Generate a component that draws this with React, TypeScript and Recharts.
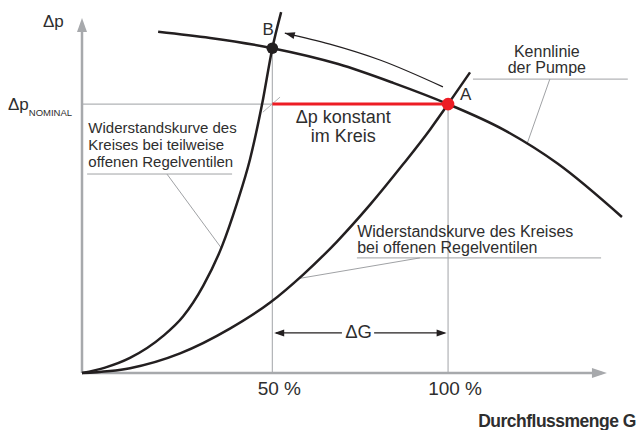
import { LineChart, Line, XAxis, YAxis, ReferenceLine, ReferenceDot } from 'recharts';

// G in % of nominal flow, dp in % of nominal pressure
const pumpG = [20.8, 35, 52, 70, 85, 100, 115, 130, 147.5];
const pumpDp = [126.9, 124.6, 120.8, 114.9, 107.9, 100, 90.6, 77.8, 58.0];

const partialG = [0, 6.3, 13.1, 22.1, 27.6, 33.1, 38.2, 42.3, 45.9, 49.2, 52, 54.4];
const partialDp = [0, 2.0, 5.6, 13.7, 21.0, 32.4, 47.0, 63.0, 79.5, 100, 120.8, 134.2];

const openG = [0, 13.1, 26.8, 40.4, 51.4, 60.5, 69.6, 78.7, 87.7, 95.1, 100, 106.0];
const openDp = [0, 1.8, 7.3, 16.5, 26.2, 36.7, 48.8, 62.6, 77.6, 90.6, 100, 111.8];

const shiftG = [55.4, 67.7, 81.4, 98.6];
const shiftDp = [126.4, 122.3, 116.4, 106.4];

const nominalDp = 100;
const pointA = { g: 100, dp: 100 };
const pointB = { g: 52, dp: 120.8 };
const deltaGLevel = 14.9;

const xTickValues = [52, 100];
const xTickLabels = ['50 %', '100 %'];

const FONT = "'Liberation Sans', Arial, sans-serif";
const INK = '#231f20';
const TEXT = '#2e2e2e';
const AXIS = '#a7a9ac';
const GUIDE = '#b1b3b6';
const LEADER = '#a0a2a5';
const RED = '#ed1c24';

const toPoints = (gs: number[], dps: number[]) => gs.map((g, i) => ({ g, dp: dps[i] }));

const pumpData = toPoints(pumpG, pumpDp);
const partialData = toPoints(partialG, partialDp);
const openData = toPoints(openG, openDp);
const shiftData = toPoints(shiftG, shiftDp);
const redData = [{ g: pointB.g, dp: nominalDp }, { g: pointA.g, dp: nominalDp }];

function arrowHead(angle: number, len: number, half: number, fill: string) {
  return (props: any) => (
    <polygon
      points={`0,0 ${-len},${-half} ${-len},${half}`}
      transform={`translate(${props.cx},${props.cy}) rotate(${angle})`}
      fill={fill}
    />
  );
}

interface NoteOpts {
  dx: number;
  dy: number;
  size: number;
  lh?: number;
  anchor?: 'start' | 'middle' | 'end';
  weight?: number;
  spacing?: number;
}

function note(lines: string[], o: NoteOpts) {
  return (props: any) => {
    const x = props.cx + o.dx;
    return (
      <text
        x={x}
        y={props.cy + o.dy}
        fontFamily={FONT}
        fontSize={o.size}
        fontWeight={o.weight ?? 400}
        letterSpacing={o.spacing}
        fill={TEXT}
        textAnchor={o.anchor ?? 'start'}
      >
        {lines.map((l, i) => (
          <tspan key={i} x={x} dy={i === 0 ? 0 : o.lh}>
            {l}
          </tspan>
        ))}
      </text>
    );
  };
}

const nominalLabel = (props: any) => (
  <text x={props.cx - 74} y={props.cy + 6} fontFamily={FONT} fontSize={17} fill={TEXT}>
    Δp
    <tspan fontSize={9.5} dy={6}>NOMINAL</tspan>
  </text>
);

const XTick = (props: any) => {
  const { x, y, payload } = props;
  const label = xTickLabels[xTickValues.indexOf(payload.value)];
  return (
    <text x={x + 7} y={y + 22} textAnchor="middle" fontFamily={FONT} fontSize={19} fill={TEXT}>
      {label}
    </text>
  );
};

const curve = { type: 'monotone' as const, dataKey: 'dp', dot: false, activeDot: false, isAnimationActive: false };

export default function App() {
  return (
    <div style={{ position: 'absolute', left: 0, top: 0, width: 641, height: 430, background: '#fff' }}>
      <LineChart width={641} height={430} margin={{ top: 10, right: 11, bottom: 0, left: 82 }}>
        <XAxis
          type="number"
          dataKey="g"
          domain={[0, 149.7]}
          ticks={xTickValues}
          interval={0}
          tick={<XTick />}
          axisLine={false}
          tickLine={false}
          tickSize={0}
          tickMargin={0}
          height={57}
        />
        <YAxis type="number" dataKey="dp" domain={[0, 135]} hide />

        {/* guide lines */}
        <ReferenceLine segment={[{ x: 0, y: nominalDp }, { x: pointB.g, y: nominalDp }]} stroke={GUIDE} strokeWidth={1.2} />
        <ReferenceLine segment={[{ x: pointB.g, y: 0 }, { x: pointB.g, y: pointB.dp }]} stroke={GUIDE} strokeWidth={1.2} />
        <ReferenceLine segment={[{ x: pointA.g, y: 0 }, { x: pointA.g, y: pointA.dp }]} stroke={GUIDE} strokeWidth={1.2} />
        <ReferenceLine segment={[{ x: 49.4, y: 97.0 }, { x: 54.1, y: 102.6 }]} stroke={GUIDE} strokeWidth={1} />

        {/* leaders */}
        <ReferenceLine segment={[{ x: 106.8, y: 109.3 }, { x: 149.1, y: 109.3 }]} stroke={LEADER} strokeWidth={1} />
        <ReferenceLine segment={[{ x: 127.8, y: 109.3 }, { x: 121.6, y: 85.3 }]} stroke={LEADER} strokeWidth={1} />
        <ReferenceLine segment={[{ x: 1.4, y: 74.0 }, { x: 41.0, y: 74.0 }]} stroke={LEADER} strokeWidth={1} />
        <ReferenceLine segment={[{ x: 23.2, y: 74.0 }, { x: 38.0, y: 46.6 }]} stroke={LEADER} strokeWidth={1} />
        <ReferenceLine segment={[{ x: 75.1, y: 42.8 }, { x: 141.8, y: 42.8 }]} stroke={LEADER} strokeWidth={1} />
        <ReferenceLine segment={[{ x: 92.3, y: 42.8 }, { x: 59.5, y: 35.2 }]} stroke={LEADER} strokeWidth={1} />

        {/* axes */}
        <ReferenceLine segment={[{ x: 0, y: 0 }, { x: 142, y: 0 }]} stroke={AXIS} strokeWidth={2.5} />
        <ReferenceLine segment={[{ x: 0, y: 0 }, { x: 0, y: 130 }]} stroke={AXIS} strokeWidth={2.5} />
        <ReferenceDot x={143.4} y={0} r={0} shape={arrowHead(0, 15, 5, AXIS)} />
        <ReferenceDot x={0} y={132} r={0} shape={arrowHead(-90, 14, 5, AXIS)} />

        {/* delta G arrow */}
        <ReferenceLine segment={[{ x: 53, y: deltaGLevel }, { x: 71, y: deltaGLevel }]} stroke={INK} strokeWidth={1.2} />
        <ReferenceLine segment={[{ x: 79.8, y: deltaGLevel }, { x: 99, y: deltaGLevel }]} stroke={INK} strokeWidth={1.2} />
        <ReferenceDot x={52.5} y={deltaGLevel} r={0} shape={arrowHead(180, 10, 3.5, INK)} />
        <ReferenceDot x={99.6} y={deltaGLevel} r={0} shape={arrowHead(0, 10, 3.5, INK)} />

        {/* curves */}
        <Line data={pumpData} {...curve} stroke={INK} strokeWidth={2.5} />
        <Line data={partialData} {...curve} stroke={INK} strokeWidth={2.5} />
        <Line data={openData} {...curve} stroke={INK} strokeWidth={2.5} />
        <Line data={shiftData} {...curve} stroke={INK} strokeWidth={1.2} />
        <ReferenceDot x={55.4} y={126.4} r={0} shape={arrowHead(-166, 10, 3.5, INK)} />

        <Line data={redData} dataKey="dp" type="linear" stroke={RED} strokeWidth={3} dot={false} activeDot={false} isAnimationActive={false} />
        <Line data={[pointB]} dataKey="dp" stroke="none" dot={{ r: 5.8, fill: INK, stroke: 'none' }} activeDot={false} isAnimationActive={false} />
        <Line data={[pointA]} dataKey="dp" stroke="none" dot={{ r: 6.3, fill: RED, stroke: 'none' }} activeDot={false} isAnimationActive={false} />

        {/* text */}
        <ReferenceDot x={0} y={132} r={0} shape={note(['Δp'], { dx: -39, dy: 9, size: 17 })} />
        <ReferenceDot x={0} y={nominalDp} r={0} shape={nominalLabel} />
        <ReferenceDot x={pointB.g} y={pointB.dp} r={0} shape={note(['B'], { dx: 1.6, dy: -13.2, size: 17, anchor: 'end' })} />
        <ReferenceDot x={pointA.g} y={pointA.dp} r={0} shape={note(['A'], { dx: 12, dy: -4, size: 17 })} />
        <ReferenceDot x={76} y={nominalDp} r={0} shape={note(['Δp konstant', 'im Kreis'], { dx: -17, dy: 19.2, lh: 18.5, size: 18, anchor: 'middle' })} />
        <ReferenceDot x={75.4} y={deltaGLevel} r={0} shape={note(['ΔG'], { dx: 0.5, dy: 5.4, size: 18.5, anchor: 'middle' })} />
        <ReferenceDot x={127.8} y={109.3} r={0} shape={note(['Kennlinie', 'der Pumpe'], { dx: -3, dy: -22.4, lh: 16, size: 16, anchor: 'middle' })} />
        <ReferenceDot x={1.4} y={74.0} r={0} shape={note(['Widerstandskurve des', 'Kreises bei teilweise', 'offenen Regelventilen'], { dx: 1.2, dy: -41, lh: 17, size: 15 })} />
        <ReferenceDot x={75.1} y={42.8} r={0} shape={note(['Widerstandskurve des Kreises', 'bei offenen Regelventilen'], { dx: 0.3, dy: -20.6, lh: 16, size: 16 })} />
        <ReferenceDot x={143.4} y={0} r={0} shape={note(['Durchflussmenge G'], { dx: 29, dy: 53.7, size: 17.5, weight: 700, anchor: 'end', spacing: -0.5 })} />
      </LineChart>
    </div>
  );
}
